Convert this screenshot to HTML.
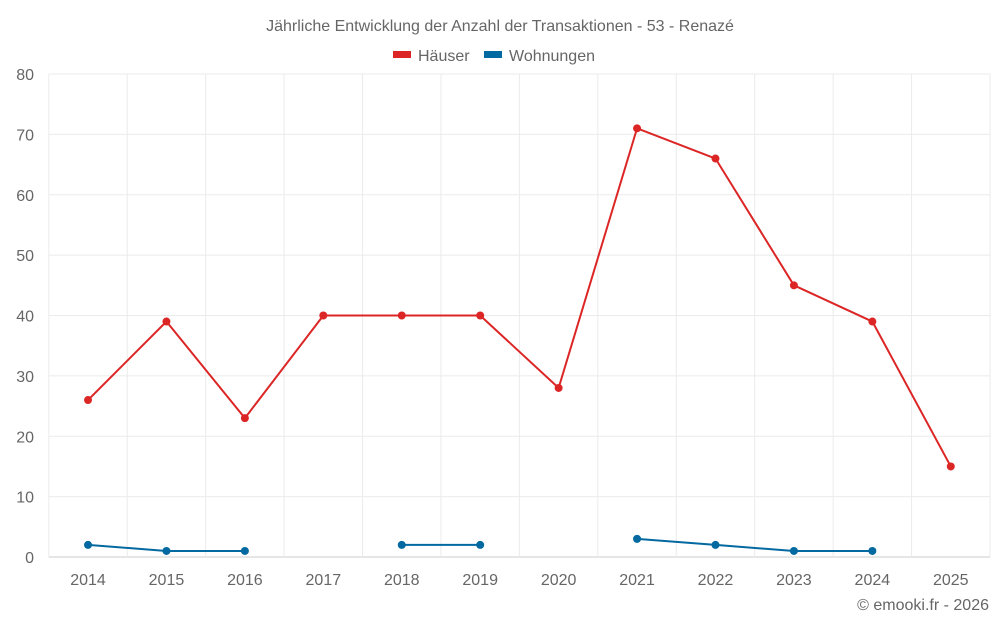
<!DOCTYPE html>
<html><head><meta charset="utf-8"><style>
body{margin:0;background:#fff;font-family:"Liberation Sans",Roboto,sans-serif}
svg text{font-family:"Liberation Sans",sans-serif;fill:#666}
</style></head><body>
<svg id="chart" width="1000" height="625">
<text x="500" y="31" text-anchor="middle" font-size="16">Jährliche Entwicklung der Anzahl der Transaktionen - 53 - Renazé</text>
<g>
<g><rect x="393" y="51" width="18" height="7" fill="#dc2626"/><text x="418" y="61" font-size="16">Häuser</text></g>
<g><rect x="484" y="51" width="18" height="7" fill="#0369a1"/><text x="509" y="61" font-size="16">Wohnungen</text></g>
</g>
<g id="grid"></g><g id="axes"></g><g id="series"></g>
<text x="989" y="610" text-anchor="end" font-size="16">© emooki.fr - 2026</text>
</svg>
<script>
const years=["2014","2015","2016","2017","2018","2019","2020","2021","2022","2023","2024","2025"];
const haeuser=[26,39,23,40,40,40,28,71,66,45,39,15];
const wohnungen=[2,1,1,null,2,2,null,3,2,1,1,null];
const yTicks=[0,10,20,30,40,50,60,70,80];
const L=48.8,R=990,T=74,B=557,yMax=80;
const step=(R-L)/years.length;
const xs=i=>L+step*(i+0.5);
const ys=v=>B-(v/yMax)*(B-T);
const NS="http://www.w3.org/2000/svg";
function mk(t,a,p){const e=document.createElementNS(NS,t);for(const k in a)e.setAttribute(k,a[k]);p.appendChild(e);return e;}
const g=document.getElementById('grid'),ax=document.getElementById('axes'),s=document.getElementById('series');
yTicks.forEach(v=>{
 const l=mk('line',{x1:L,x2:R,y1:ys(v),y2:ys(v),stroke:v===0?'#ccc':'#ebebeb'},g);
 
 
 const t=mk('text',{x:34,y:ys(v)+6,'text-anchor':'end','font-size':16},ax);t.textContent=v;
 
 
});
for(let i=0;i<=years.length;i++){
 const l=mk('line',{x1:L+step*i,x2:L+step*i,y1:T,y2:B,stroke:'#ebebeb'},g);
 
 
}
years.forEach((y,i)=>{
 const t=mk('text',{x:xs(i),y:585,'text-anchor':'middle','font-size':16},ax);t.textContent=y;
 
 
});
function draw(data,color,name){
 let seg=[];
 const flush=()=>{if(seg.length>1){const p=mk('polyline',{points:seg.join(' '),fill:'none',stroke:color,'stroke-width':2},s);
 
 }seg=[];};
 data.forEach((v,i)=>{if(v===null){flush();return;}seg.push(xs(i)+','+ys(v));});
 flush();
 data.forEach((v,i)=>{if(v===null)return;
 const c=mk('circle',{cx:xs(i),cy:ys(v),r:4,fill:color},s);
 
 });
}
draw(haeuser,'#dc2626','haeuser');
draw(wohnungen,'#0369a1','wohnungen');
</script>
</body></html>
